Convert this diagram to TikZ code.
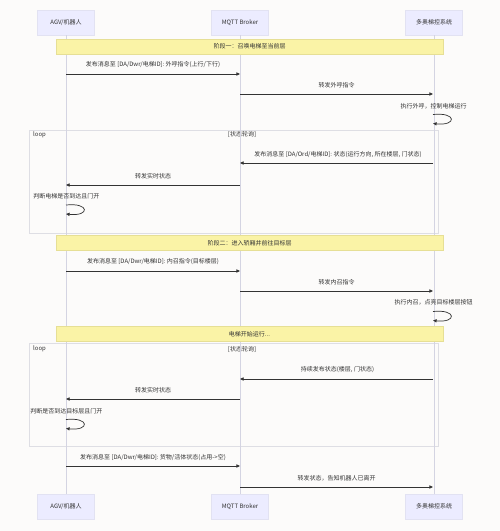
\documentclass[tikz,border=0pt]{standalone}
\usepackage{fontspec}
\newfontfamily\cjk{Noto Sans CJK SC}
\usetikzlibrary{arrows.meta}
\definecolor{bgc}{HTML}{FCFBFA}
\definecolor{actfill}{HTML}{ECECFF}
\definecolor{actdraw}{HTML}{E2E2F2}
\definecolor{notefill}{HTML}{FAF3A6}
\definecolor{notedraw}{HTML}{E6DF95}
\definecolor{msgc}{HTML}{333333}
\definecolor{lifec}{HTML}{D4D4E2}
\definecolor{loopc}{HTML}{DEDEE4}
\definecolor{txtc}{HTML}{333333}
\tikzset{
  txt/.style={font=\cjk\fontsize{6}{7}\selectfont, text=txtc, inner sep=0pt},
  actor/.style={txt, draw=actdraw, fill=actfill, minimum width=57pt, minimum height=25pt},
  notebox/.style={txt, draw=notedraw, fill=notefill, minimum width=387pt, minimum height=15pt},
  lifeline/.style={draw=lifec, line width=0.6pt},
  msg/.style={draw=msgc, line width=0.7pt, -{Triangle[length=3.6pt,width=3.2pt]}},
  loopbox/.style={draw=loopc, line width=0.7pt},
}
\begin{document}
\begin{tikzpicture}[x=1pt,y=-1pt]
\fill[bgc] (0,0) rectangle (500,531);
\useasboundingbox (0,0) rectangle (500,531);

% participants
\node[actor] (a1) at (66,22.5) {AGV/机器人};
\node[actor] (b1) at (240,22.5) {MQTT Broker};
\node[actor] (c1) at (434,22.5) {多奥梯控系统};
\node[actor] (a2) at (66,506.5) {AGV/机器人};
\node[actor] (b2) at (240,506.5) {MQTT Broker};
\node[actor] (c2) at (434,506.5) {多奥梯控系统};

% loop frames (behind)
\draw[loopbox] (29,130) rectangle (438,233);
\node[txt, anchor=west] (l1) at (33,134.5) {loop};
\node[txt] (l1c) at (242,134.5) {[状态轮询]};
\draw[loopbox] (29,343) rectangle (438,446);
\node[txt, anchor=west] (l2) at (33,349) {loop};
\node[txt] (l2c) at (242,349) {[状态轮询]};

% lifelines
\draw[lifeline] (a1) -- (a2);
\draw[lifeline] (b1) -- (b2);
\draw[lifeline] (c1) -- (c2);

% notes
\node[notebox] (n1) at (249.5,46.5) {阶段一：召唤电梯至当前层};
\node[notebox] (n2) at (249.5,243) {阶段二：进入轿厢并前往目标层};
\node[notebox] (n3) at (249.5,334) {电梯开始运行...};

% coordinates on lifelines
\foreach \n/\y in {1/74,2/94,3/163,4/185,5/271,6/291,7/379,8/399,9/466,10/487}{
  \coordinate (A\n) at (66,\y);
  \coordinate (B\n) at (240,\y);
  \coordinate (C\n) at (433,\y);
}

% phase 1
\node[txt] (t1) at (153,65) {发布消息至 [DA/Dwr/电梯ID]: 外呼指令(上行/下行)};
\draw[msg] (A1) -- (B1);
\node[txt] (t2) at (336.5,85) {转发外呼指令};
\draw[msg] (B2) -- (C2);
\node[txt] (t3) at (433.5,106) {执行外呼，控制电梯运行};
\coordinate (s1a) at (433,114.5);
\coordinate (s1b) at (433,123.5);
\draw[msg] (s1a) .. controls (457,112) and (457,126) .. (s1b);

% loop 1
\node[txt] (t4) at (338,155) {发布消息至 [DA/Ord/电梯ID]: 状态(运行方向, 所在楼层, 门状态)};
\draw[msg] (C3) -- (B3);
\node[txt] (t5) at (153,176) {转发实时状态};
\draw[msg] (B4) -- (A4);
\node[txt] (t6) at (66.5,196) {判断电梯是否到达且门开};
\coordinate (s2a) at (66,205);
\coordinate (s2b) at (66,214);
\draw[msg] (s2a) .. controls (90,202.5) and (90,216.5) .. (s2b);

% phase 2
\node[txt] (t7) at (153,262) {发布消息至 [DA/Dwr/电梯ID]: 内召指令(目标楼层)};
\draw[msg] (A5) -- (B5);
\node[txt] (t8) at (336.5,282) {转发内召指令};
\draw[msg] (B6) -- (C6);
\node[txt] (t9) at (433.5,302) {执行内召，点亮目标楼层按钮};
\coordinate (s3a) at (433,311.5);
\coordinate (s3b) at (433,320.5);
\draw[msg] (s3a) .. controls (457,309) and (457,323) .. (s3b);

% loop 2
\node[txt] (t10) at (337.5,370) {持续发布状态(楼层, 门状态)};
\draw[msg] (C7) -- (B7);
\node[txt] (t11) at (153,390) {转发实时状态};
\draw[msg] (B8) -- (A8);
\node[txt] (t12) at (66.5,411) {判断是否到达目标层且门开};
\coordinate (s4a) at (66,419.5);
\coordinate (s4b) at (66,428.5);
\draw[msg] (s4a) .. controls (90,417) and (90,431) .. (s4b);

% final
\node[txt] (t13) at (153,458) {发布消息至 [DA/Dwr/电梯ID]: 货物/活体状态(占用->空)};
\draw[msg] (A9) -- (B9);
\node[txt] (t14) at (336.5,478) {转发状态，告知机器人已离开};
\draw[msg] (B10) -- (C10);
\end{tikzpicture}
\end{document}
